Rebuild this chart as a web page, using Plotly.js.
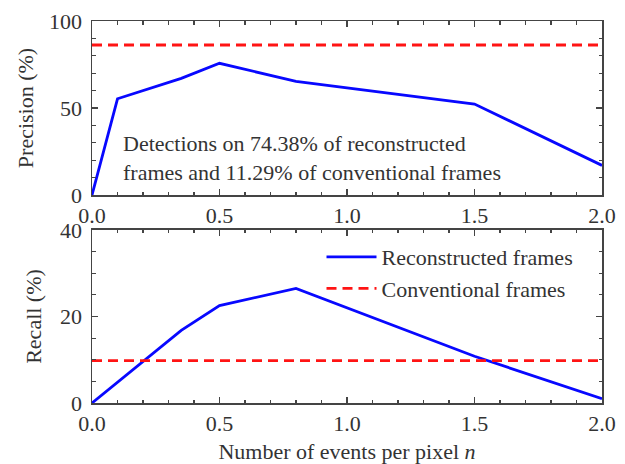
<!DOCTYPE html>
<html><head><meta charset="utf-8">
<script src="https://cdn.plot.ly/plotly-3.0.1.min.js"></script>
<style>html,body{margin:0;padding:0;background:#fff}</style>
</head><body>
<div id="chart" style="width:625px;height:464px"></div>
<script>
const eventsPerPixel = [0, 0.1, 0.35, 0.5, 0.8, 1.5, 2.0];
const precisionReconstructed = [0, 55.3, 67, 75.7, 65.3, 52.3, 17];
const recallReconstructed = [0, 4.8, 16.8, 22.5, 26.5, 10.8, 1.0];
const convX = [0, 2.0];
const precisionConventional = [86.2, 86.2];
const recallConventional = [9.8, 9.8];
const seriesNames = ["Reconstructed frames", "Conventional frames"];
const noteText = "Detections on 74.38% of reconstructed<br>frames and 11.29% of conventional frames";

const FONT = "Liberation Serif, Times New Roman, serif";
const FS = 22;
const blue = "#0808ff", red = "#ff1414";
const traces = [
  {x: eventsPerPixel, y: precisionReconstructed, xaxis: "x", yaxis: "y", mode: "lines",
   line: {color: blue, width: 2.8}, name: seriesNames[0], showlegend: false},
  {x: convX, y: precisionConventional, xaxis: "x", yaxis: "y", mode: "lines",
   line: {color: red, width: 2.8, dash: "10px,6px"}, name: seriesNames[1], showlegend: false},
  {x: eventsPerPixel, y: recallReconstructed, xaxis: "x2", yaxis: "y2", mode: "lines",
   line: {color: blue, width: 2.8}, name: seriesNames[0]},
  {x: convX, y: recallConventional, xaxis: "x2", yaxis: "y2", mode: "lines",
   line: {color: red, width: 2.8, dash: "10px,6px"}, name: seriesNames[1]}
];
const axBase = {
  showline: true, mirror: "ticks", linecolor: "#444", linewidth: 1.5,
  ticks: "inside", ticklen: 6, tickwidth: 1.3, tickcolor: "#444",
  showgrid: false, zeroline: false,
  tickfont: {family: FONT, size: FS, color: "#333"}
};
const xBase = Object.assign({}, axBase, {range: [0, 2], dtick: 0.5, tickformat: ".1f",
  minor: {ticks: "inside", dtick: 0.1, ticklen: 3.5, tickcolor: "#444", tickwidth: 1.1}});
const titleFont = {family: FONT, size: FS, color: "#333"};
const layout = {
  width: 625, height: 464,
  margin: {l: 92, r: 23, t: 21, b: 61},
  paper_bgcolor: "#fff", plot_bgcolor: "#fff",
  font: {family: FONT, size: FS, color: "#333"},
  xaxis: Object.assign({}, xBase, {anchor: "y", domain: [0, 1]}),
  yaxis: Object.assign({}, axBase, {anchor: "x", domain: [0.5445, 1], range: [0, 100], dtick: 50,
    ticklabelstandoff: 4,
    minor: {ticks: "inside", dtick: 10, ticklen: 3.5, tickcolor: "#444", tickwidth: 1.1},
    title: {text: "Precision (%)", font: titleFont, standoff: 9}}),
  xaxis2: Object.assign({}, xBase, {anchor: "y2", domain: [0, 1],
    title: {text: "Number of events per pixel <i>n</i>", font: titleFont, standoff: 8}}),
  yaxis2: Object.assign({}, axBase, {anchor: "x2", domain: [0, 0.4529], range: [0, 40], dtick: 20,
    ticklabelstandoff: 4,
    minor: {ticks: "inside", dtick: 5, ticklen: 3.5, tickcolor: "#444", tickwidth: 1.1},
    title: {text: "Recall (%)", font: titleFont, standoff: 12}}),
  showlegend: true,
  legend: {x: 0.45, y: 0.437, xanchor: "left", yanchor: "top", bgcolor: "rgba(0,0,0,0)",
    font: {family: FONT, size: FS, color: "#333"}, itemwidth: 50},
  annotations: [{xref: "x", yref: "y", x: 0.115, y: 21.5, xanchor: "left", yanchor: "middle",
    align: "left", showarrow: false, text: noteText,
    font: {family: FONT, size: FS, color: "#333"}}]
};
Plotly.newPlot("chart", traces, layout, {displayModeBar: false, staticPlot: true});
</script>
</body></html>
